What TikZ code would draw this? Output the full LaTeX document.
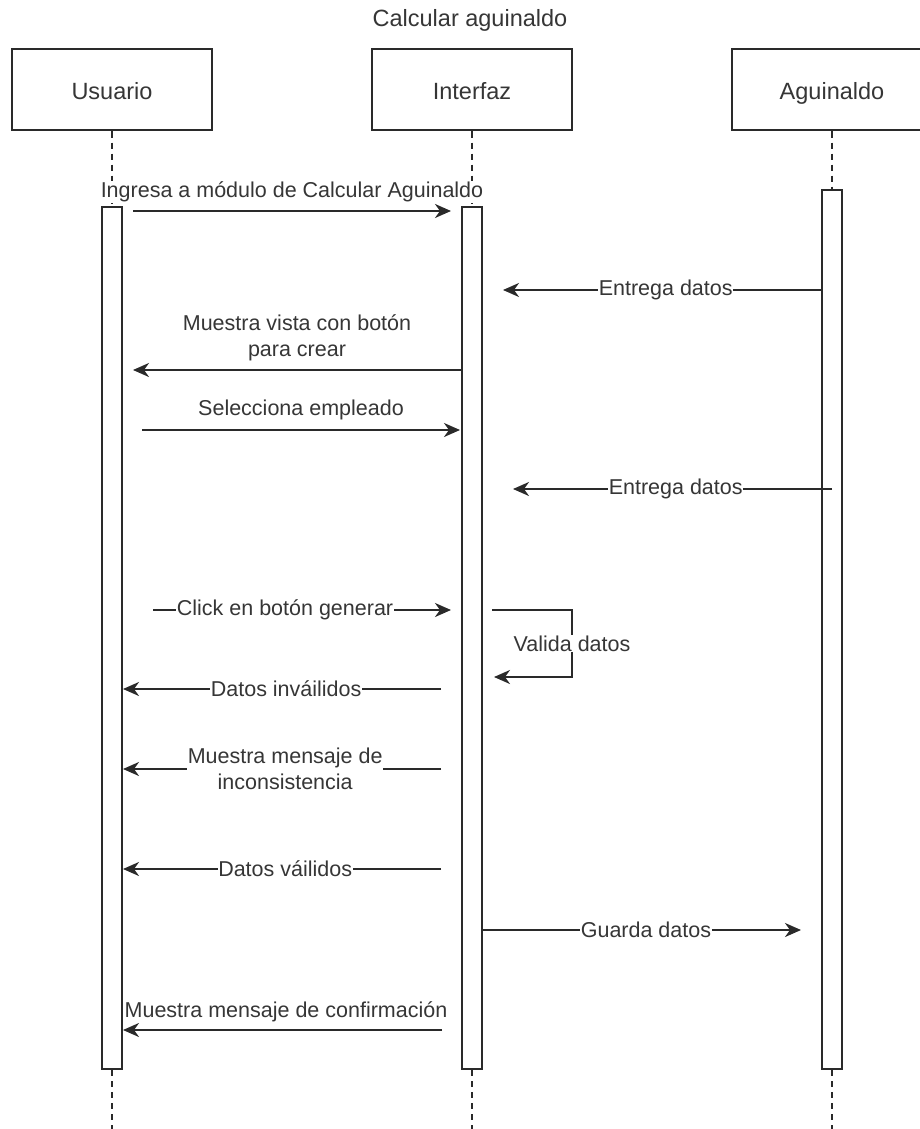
\documentclass[tikz,border=0pt]{standalone}
\usepackage{fontspec}
\setmainfont{Liberation Sans}
\usetikzlibrary{arrows.meta}
\definecolor{ink}{HTML}{2A2A2A}
\definecolor{txt}{HTML}{363636}

\begin{document}
\begin{tikzpicture}[x=1pt,y=-1pt,
  every node/.style={text=txt, inner sep=1pt},
  actor/.style={draw=ink, line width=2pt, fill=white, minimum width=200pt,
    minimum height=81pt, text height=22pt, text depth=3pt,
    font=\fontsize{23.5}{28}\selectfont},
  bar/.style={draw=ink, line width=2pt, fill=white, minimum width=20pt, inner sep=0pt},
  life/.style={draw=ink, line width=1.8pt, dash pattern=on 6pt off 5pt},
  msg/.style={draw=ink, line width=2pt, -{Stealth[length=16pt,width=14pt,inset=5pt]}},
  lbl/.style={font=\fontsize{21.5}{25.5}\selectfont, align=center},
  inl/.style={lbl, fill=white, inner sep=0.5pt},
]
\clip (0,0) rectangle (920,1129);
\fill[white] (0,0) rectangle (920,1129);

% title
\node[font=\fontsize{23.5}{28}\selectfont, text height=20pt, text depth=4pt] (title) at (470,19) {Calcular aguinaldo};

% participants
\node[actor] (usr) at (112,90) {Usuario};
\node[actor] (ifz) at (472,90) {Interfaz};
\node[actor] (agu) at (832,90) {Aguinaldo};

% activation bars
\node[bar, minimum height=862pt] (actU) at (112,638) {};
\node[bar, minimum height=862pt] (actI) at (472,638) {};
\node[bar, minimum height=879pt] (actA) at (832,629.5) {};

% lifeline ends
\coordinate (endU) at (112,1135);
\coordinate (endI) at (472,1135);
\coordinate (endA) at (832,1135);

% lifelines
\draw[life] (usr.south) -- (actU.north);
\draw[life] (ifz.south) -- (actI.north);
\draw[life] (agu.south) -- (actA.north);
\draw[life] (actU.south) -- (endU);
\draw[life] (actI.south) -- (endI);
\draw[life] (actA.south) -- (endA);

% message end points
\coordinate (m1a) at (133,211);  \coordinate (m1b) at (451,211);
\coordinate (m2a) at (822,290);  \coordinate (m2b) at (503,290);
\coordinate (m3a) at (462,370);  \coordinate (m3b) at (133,370);
\coordinate (m4a) at (142,430);  \coordinate (m4b) at (460,430);
\coordinate (m5a) at (832,489);  \coordinate (m5b) at (513,489);
\coordinate (m6a) at (153,610);  \coordinate (m6b) at (451,610);
\coordinate (v1) at (492,610);   \coordinate (v2) at (572,610);
\coordinate (v3) at (572,677);   \coordinate (v4) at (494,677);
\coordinate (m8a) at (441,689);  \coordinate (m8b) at (123,689);
\coordinate (m9a) at (441,769);  \coordinate (m9b) at (123,769);
\coordinate (m10a) at (441,869); \coordinate (m10b) at (123,869);
\coordinate (m11a) at (482,930); \coordinate (m11b) at (801,930);
\coordinate (m12a) at (442,1030); \coordinate (m12b) at (123,1030);

% messages
\draw[msg] (m1a) -- (m1b);
\node[inl] (l1) at (292,192) {Ingresa a módulo de Calcular Aguinaldo};

\draw[msg] (m2a) -- node[inl, pos=0.49] (l2) {Entrega datos} (m2b);

\draw[msg] (m3a) -- (m3b);
\node[lbl] (l3) at (297,338) {Muestra vista con botón\\para crear};

\draw[msg] (m4a) -- (m4b);
\node[lbl] (l4) at (301,410) {Selecciona empleado};

\draw[msg] (m5a) -- node[inl, pos=0.49] (l5) {Entrega datos} (m5b);

\draw[msg] (m6a) -- node[inl, pos=0.443] (l6) {Click en botón generar} (m6b);

\draw[msg] (v1) -- (v2) -- node[inl] (l7) {Valida datos} (v3) -- (v4);

\draw[msg] (m8a) -- node[inl, pos=0.487] (l8) {Datos inváilidos} (m8b);

\draw[msg] (m9a) -- node[inl, pos=0.49] (l9) {Muestra mensaje de\\inconsistencia} (m9b);

\draw[msg] (m10a) -- node[inl, pos=0.49] (l10) {Datos váilidos} (m10b);

\draw[msg] (m11a) -- node[inl, pos=0.514] (l11) {Guarda datos} (m11b);

\draw[msg] (m12a) -- (m12b);
\node[inl] (l12) at (286,1012) {Muestra mensaje de confirmación};
\end{tikzpicture}
\end{document}
